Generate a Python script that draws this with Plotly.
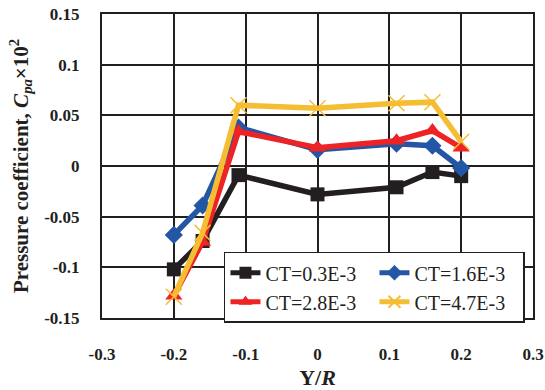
import plotly.graph_objects as go

# Radial positions Y/R of the pressure taps
y_over_r = [-0.2, -0.16, -0.11, 0.0, 0.11, 0.16, 0.2]

# Pressure coefficient Cpa x 10^2 for each thrust coefficient
cp_ct03 = [-0.102, -0.074, -0.009, -0.028, -0.021, -0.006, -0.010]
cp_ct16 = [-0.068, -0.039, 0.038, 0.016, 0.022, 0.020, -0.002]
cp_ct28 = [-0.128, -0.075, 0.034, 0.018, 0.025, 0.035, 0.018]
cp_ct47 = [-0.129, -0.066, 0.060, 0.057, 0.062, 0.063, 0.024]

series_names = ["CT=0.3E-3", "CT=1.6E-3", "CT=2.8E-3", "CT=4.7E-3"]

x_tick_vals = [-0.3, -0.2, -0.1, 0, 0.1, 0.2, 0.3]
x_tick_text = ["-0.3", "-0.2", "-0.1", "0", "0.1", "0.2", "0.3"]
y_tick_vals = [-0.15, -0.1, -0.05, 0, 0.05, 0.1, 0.15]
y_tick_text = ["-0.15", "-0.1", "-0.05", "0", "0.05", "0.1", "0.15"]

styles = [
    dict(color="#231f20", symbol="square", size=14, mline=0),
    dict(color="#2456a6", symbol="diamond", size=14, mline=0),
    dict(color="#ee2326", symbol="triangle-up", size=15, mline=0),
    dict(color="#f5bd32", symbol="x-thin", size=16, mline=1.5),
]

fig = go.Figure()
for name, vals, st in zip(series_names, [cp_ct03, cp_ct16, cp_ct28, cp_ct47], styles):
    fig.add_trace(go.Scatter(
        x=y_over_r, y=vals, name=name, mode="lines+markers",
        line=dict(color=st["color"], width=5.5),
        marker=dict(symbol=st["symbol"], size=st["size"], color=st["color"],
                    line=dict(color=st["color"], width=st["mline"])),
    ))

font_family = "Liberation Serif, Times New Roman, serif"

fig.update_layout(
    width=545, height=390,
    margin=dict(l=102, r=12, t=14, b=72, autoexpand=False),
    paper_bgcolor="white", plot_bgcolor="white",
    font=dict(family=font_family, color="#231f20"),
    showlegend=True,
    legend=dict(
        orientation="h", x=0.283, xanchor="left", y=0.218, yanchor="top",
        entrywidth=104, entrywidthmode="pixels",
        bgcolor="white", bordercolor="#231f20", borderwidth=1.5,
        font=dict(size=20, family=font_family, color="#231f20"),
        itemsizing="constant", tracegroupgap=0,
    ),
)

fig.update_xaxes(
    range=[-0.3, 0.3], tickvals=x_tick_vals, ticktext=x_tick_text,
    showgrid=True, gridcolor="#231f20", gridwidth=1.5,
    showline=True, linecolor="#231f20", linewidth=2, mirror=True,
    zeroline=False, ticks="", ticklabelstandoff=20, automargin=False,
    tickfont=dict(size=17, family=font_family, weight="bold", color="#231f20"),
    title=dict(text="<b>Y/<i>R</i></b>", font=dict(size=22, family=font_family, color="#231f20"),
               standoff=6),
)
fig.update_yaxes(
    range=[-0.15, 0.15], tickvals=y_tick_vals, ticktext=y_tick_text,
    showgrid=True, gridcolor="#231f20", gridwidth=1.5,
    showline=True, linecolor="#231f20", linewidth=2, mirror=True,
    zeroline=False, ticks="", ticklabelstandoff=17, automargin=False,
    tickfont=dict(size=17, family=font_family, weight="bold", color="#231f20"),
    title=dict(text="<b>Pressure coefficient, <i>C<sub>pa</sub></i>×10<sup>2</sup></b>",
               font=dict(size=21, family=font_family, color="#231f20"), standoff=10),
)

fig.write_html("out.html")
